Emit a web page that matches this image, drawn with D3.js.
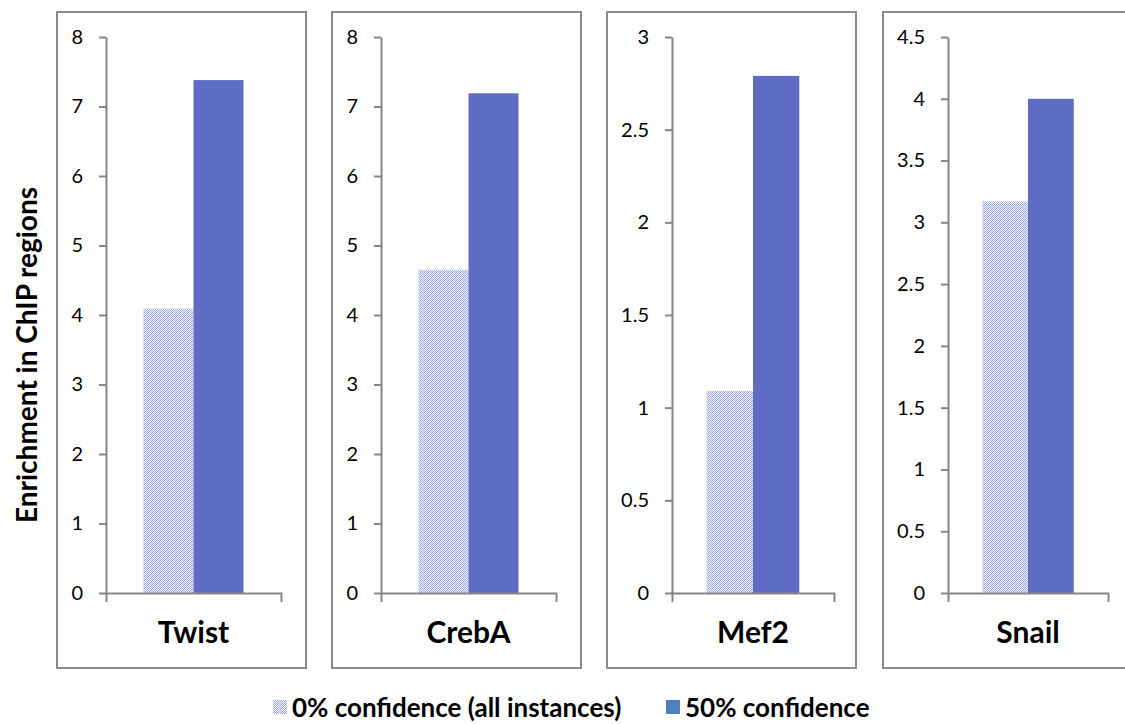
<!DOCTYPE html>
<html>
<head>
<meta charset="utf-8">
<script src="https://cdn.jsdelivr.net/npm/d3@7"></script>
<style>
  body { margin: 0; background: #fff; }
  text { font-family: Lato, "Open Sans", sans-serif; fill: #000; }
  .axis path, .axis line { stroke: #868686; stroke-width: 2; }
  .axis text { font-size: 20px; }
  .cat text { font-size: 30px; font-weight: bold; }
</style>
</head>
<body>
<script>
// data
const genes        = ["Twist", "CrebA", "Mef2", "Snail"];
const allInstances = [4.09, 4.65, 1.09, 3.17];
const conf50       = [7.38, 7.19, 2.79, 4.00];
const yMax         = [8, 8, 3, 4.5];
const yStep        = [1, 1, 0.5, 0.5];
const seriesNames  = ["0% confidence (all instances)", "50% confidence"];

const width = 1125;
const height = 724;

// panel layout
const panelX = [57, 332, 607, 883];
const panelW = 249;
const panelTop = 12, panelBottom = 668;
const axisLeft  = [106, 381, 672, 948];
const axisRight = [281, 556, 834, 1108];
const plotTop = 37, plotBottom = 593;

const barColor = "#5e6dc3";

const svg = d3.select("body")
  .append("svg")
  .attr("width", width)
  .attr("height", height);

// dotted fill for the "all instances" series
const defs = svg.append("defs");
const pat = defs.append("pattern")
  .attr("id", "dots")
  .attr("patternUnits", "userSpaceOnUse")
  .attr("width", 4)
  .attr("height", 4);
pat.append("rect").attr("width", 4).attr("height", 4).attr("fill", "#eef0fb");
[[0, 0], [2, 0], [1, 1], [3, 1], [0, 2], [2, 2], [1, 3], [3, 3]].forEach(([px, py], i) => {
  pat.append("rect")
    .attr("x", px).attr("y", py)
    .attr("width", 1).attr("height", 1)
    .attr("fill", i % 3 === 0 ? "#8e9ade" : "#b3bbea");
});

genes.forEach((gene, i) => {
  const g = svg.append("g");

  // panel frame
  g.append("rect")
    .attr("x", panelX[i])
    .attr("y", panelTop)
    .attr("width", panelW)
    .attr("height", panelBottom - panelTop)
    .attr("fill", "none")
    .attr("stroke", "#8c8c8c")
    .attr("stroke-width", 2);

  const y = d3.scaleLinear()
    .domain([0, yMax[i]])
    .range([plotBottom, plotTop]);

  const x = d3.scaleBand()
    .domain([gene])
    .range([axisLeft[i], axisRight[i]])
    .paddingInner(0)
    .paddingOuter(0.375);

  const xs = d3.scaleBand()
    .domain(seriesNames)
    .range([0, x.bandwidth()]);

  const vals = [allInstances[i], conf50[i]];

  g.selectAll("rect.bar")
    .data(seriesNames)
    .enter()
    .append("rect")
    .attr("class", "bar")
    .attr("x", d => x(gene) + xs(d))
    .attr("width", xs.bandwidth())
    .attr("y", (d, j) => y(vals[j]))
    .attr("height", (d, j) => plotBottom - y(vals[j]))
    .attr("fill", (d, j) => j === 0 ? "url(#dots)" : barColor);

  const ticks = d3.range(0, yMax[i] + yStep[i] / 2, yStep[i]);

  g.append("g")
    .attr("class", "axis")
    .attr("transform", `translate(${axisLeft[i]},0)`)
    .call(d3.axisLeft(y).tickValues(ticks).tickSize(7).tickSizeOuter(0).tickPadding(16).tickFormat(d => String(d)));

  g.append("g")
    .attr("class", "axis cat")
    .attr("transform", `translate(0,${plotBottom})`)
    .call(d3.axisBottom(x).tickSizeInner(0).tickSizeOuter(9).tickPadding(29))
    .call(a => a.selectAll(".tick line").remove());
});

// y-axis title
svg.append("text")
  .attr("transform", "translate(37,355) rotate(-90)")
  .attr("text-anchor", "middle")
  .style("font-size", "28px")
  .style("font-weight", "bold")
  .text("Enrichment in ChIP regions");

// legend
const legendX = [273, 666];
const legend = svg.selectAll("g.legend")
  .data(seriesNames)
  .enter()
  .append("g")
  .attr("class", "legend")
  .attr("transform", (d, j) => `translate(${legendX[j]},700)`);

legend.append("rect")
  .attr("width", 14)
  .attr("height", 14)
  .attr("fill", (d, j) => j === 0 ? "url(#dots)" : "#4f7fbf");

legend.append("text")
  .attr("x", 19)
  .attr("y", 17)
  .style("font-size", "26px")
  .style("font-weight", "bold")
  .text(d => d);
</script>
</body>
</html>
